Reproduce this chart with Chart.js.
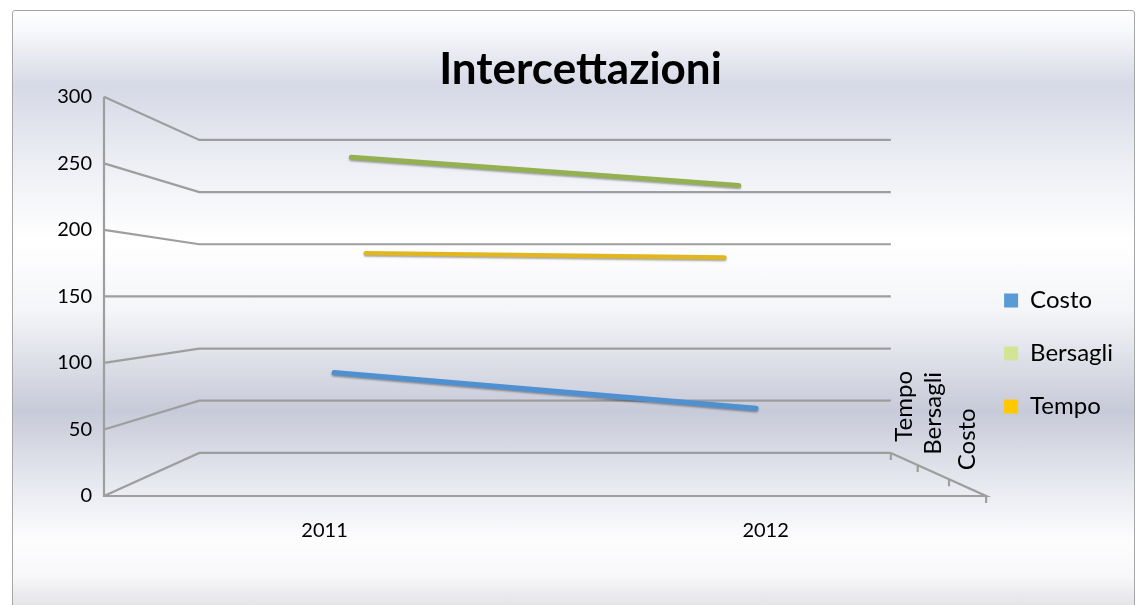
<!DOCTYPE html>
<html>
<head>
<meta charset="utf-8">
<script src="https://cdn.jsdelivr.net/npm/chart.js@4.4.1/dist/chart.umd.min.js"></script>
<style>
  html, body { margin: 0; padding: 0; background: #fff; }
  #wrap { position: relative; width: 1137px; height: 605px; overflow: hidden; }
  #frame {
    position: absolute; left: 12px; top: 10px; width: 1121px; height: 620px;
    border: 1.5px solid #a6a6a6; border-radius: 3px;
    background: linear-gradient(to bottom,
      #ffffff 0px, #f7f8fb 20px, #d6d9e6 75px, #eceef4 150px, #ffffff 230px,
      #f4f5f8 300px, #c7cad8 400px, #e6e8ef 470px, #fdfdfe 530px,
      #f8f8fa 565px, #e3e3e8 595px);
  }
  canvas { position: absolute; left: 0; top: 0; }
</style>
</head>
<body>
<div id="wrap">
  <div id="frame"></div>
  <canvas id="grafico" width="1137" height="605"></canvas>
</div>
<script>
// dati
const anni = ['2011', '2012'];
const costo = [90, 62];
const bersagli = [269, 245];
const tempo = [190, 186];
// asse della profondita', dal fondo verso il davanti
const serieProfondita = ['Tempo', 'Bersagli', 'Costo'];
const asseY = { min: 0, max: 300, passo: 50 };

const FONT = 'Lato';
const SCALA_FONDO = 0.784;            // rapporto parete di fondo / piano frontale
const K = 1 / SCALA_FONDO - 1;

function scalaProf(z) {               // z = 0 davanti, 1 in fondo
    return 1 / (1 + K * z);
}

function centroProf(nome) {
    const i = serieProfondita.indexOf(nome);
    return 1 - (i + 0.5) / serieProfondita.length;
}

const prospettiva = {
    id: 'prospettiva',
    afterLayout(chart) {
        // sposta la legenda come in Excel
        const l = chart.legend;
        l.left -= 11; l.right -= 11;
        l.top += 51; l.bottom += 51;
    },
    beforeDatasetsDraw(chart) {
        const { ctx, chartArea: a, scales: { y } } = chart;
        const vx = (a.left + a.right) / 2, vy = (a.top + a.bottom) / 2;
        const proj = (px, py, s) => [vx + s * (px - vx), vy + s * (py - vy)];
        const sb = scalaProf(1);

        ctx.save();
        ctx.strokeStyle = '#9e9e9e';
        ctx.lineWidth = 2.2;
        ctx.beginPath();
        // griglia su parete laterale e di fondo
        y.ticks.forEach(t => {
            const py = y.getPixelForValue(t.value);
            ctx.moveTo(a.left, py);
            ctx.lineTo(...proj(a.left, py, sb));
            ctx.lineTo(...proj(a.right, py, sb));
        });
        // asse verticale e bordo del pavimento
        ctx.moveTo(a.left, a.top);
        ctx.lineTo(a.left, a.bottom);
        ctx.lineTo(a.right, a.bottom);
        ctx.lineTo(...proj(a.right, a.bottom, sb));
        // tacche asse profondita'
        const n = serieProfondita.length;
        for (let j = 0; j <= n; j++) {
            const p = proj(a.right, a.bottom, scalaProf(j / n));
            ctx.moveTo(p[0], p[1]);
            ctx.lineTo(p[0], p[1] + 7);
        }
        ctx.stroke();

        // etichette asse profondita'
        ctx.fillStyle = '#000';
        ctx.font = '24px ' + FONT;
        ctx.textAlign = 'left';
        ctx.textBaseline = 'middle';
        serieProfondita.forEach(nome => {
            const p = proj(a.right, a.bottom, scalaProf(centroProf(nome)));
            ctx.save();
            ctx.translate(p[0] + 1, p[1] - 17);
            ctx.rotate(-Math.PI / 2);
            ctx.fillText(nome, 0, 0);
            ctx.restore();
        });
        ctx.restore();
    },
    beforeDatasetDraw(chart, args) {
        const { ctx, chartArea: a } = chart;
        const vx = (a.left + a.right) / 2, vy = (a.top + a.bottom) / 2;
        const s = scalaProf(centroProf(chart.data.datasets[args.index].label));
        ctx.save();
        ctx.translate(vx, vy);
        ctx.scale(s, s);
        ctx.translate(-vx, -vy);
        ctx.shadowColor = 'rgba(0,0,0,0.35)';
        ctx.shadowBlur = 2;
        ctx.shadowOffsetY = 1.5;
    },
    afterDatasetDraw(chart) {
        chart.ctx.restore();
    }
};

new Chart(document.getElementById('grafico'), {
    type: 'line',
    data: {
        labels: anni,
        datasets: [
            { label: 'Costo', data: costo, borderColor: '#4f91d0', backgroundColor: '#5b9bd5' },
            { label: 'Bersagli', data: bersagli, borderColor: '#93b150', backgroundColor: '#d3e495' },
            { label: 'Tempo', data: tempo, borderColor: '#e2b61e', backgroundColor: '#ffc800' }
        ]
    },
    options: {
        responsive: false,
        animation: false,
        layout: { padding: { left: 27, right: 3, top: 0, bottom: 0 } },
        elements: {
            line: { borderWidth: 5.5, tension: 0, borderCapStyle: 'round' },
            point: { radius: 0 }
        },
        plugins: {
            title: {
                display: true,
                text: 'Intercettazioni',
                color: '#000',
                font: { family: FONT, size: 44, weight: 'bold' },
                padding: { top: 43, bottom: 1 }
            },
            legend: {
                position: 'right',
                labels: {
                    color: '#000',
                    font: { family: FONT, size: 24 },
                    boxWidth: 14,
                    boxHeight: 14,
                    padding: 29,
                    generateLabels(chart) {
                        return Chart.defaults.plugins.legend.labels.generateLabels(chart)
                            .map(l => Object.assign(l, { strokeStyle: l.fillStyle, lineWidth: 0 }));
                    }
                }
            },
            tooltip: { enabled: false }
        },
        scales: {
            x: {
                offset: true,
                grid: { display: false, drawTicks: false },
                border: { display: false },
                ticks: { color: '#000', font: { family: FONT, size: 20 }, padding: 23 },
                afterFit(s) { s.height = 109; }
            },
            y: {
                min: asseY.min,
                max: asseY.max,
                grid: { display: false, drawTicks: false },
                border: { display: false },
                ticks: { stepSize: asseY.passo, color: '#000', font: { family: FONT, size: 20 }, padding: 12 },
                afterFit(s) { s.width = 77; }
            }
        }
    },
    plugins: [prospettiva]
});
</script>
</body>
</html>
